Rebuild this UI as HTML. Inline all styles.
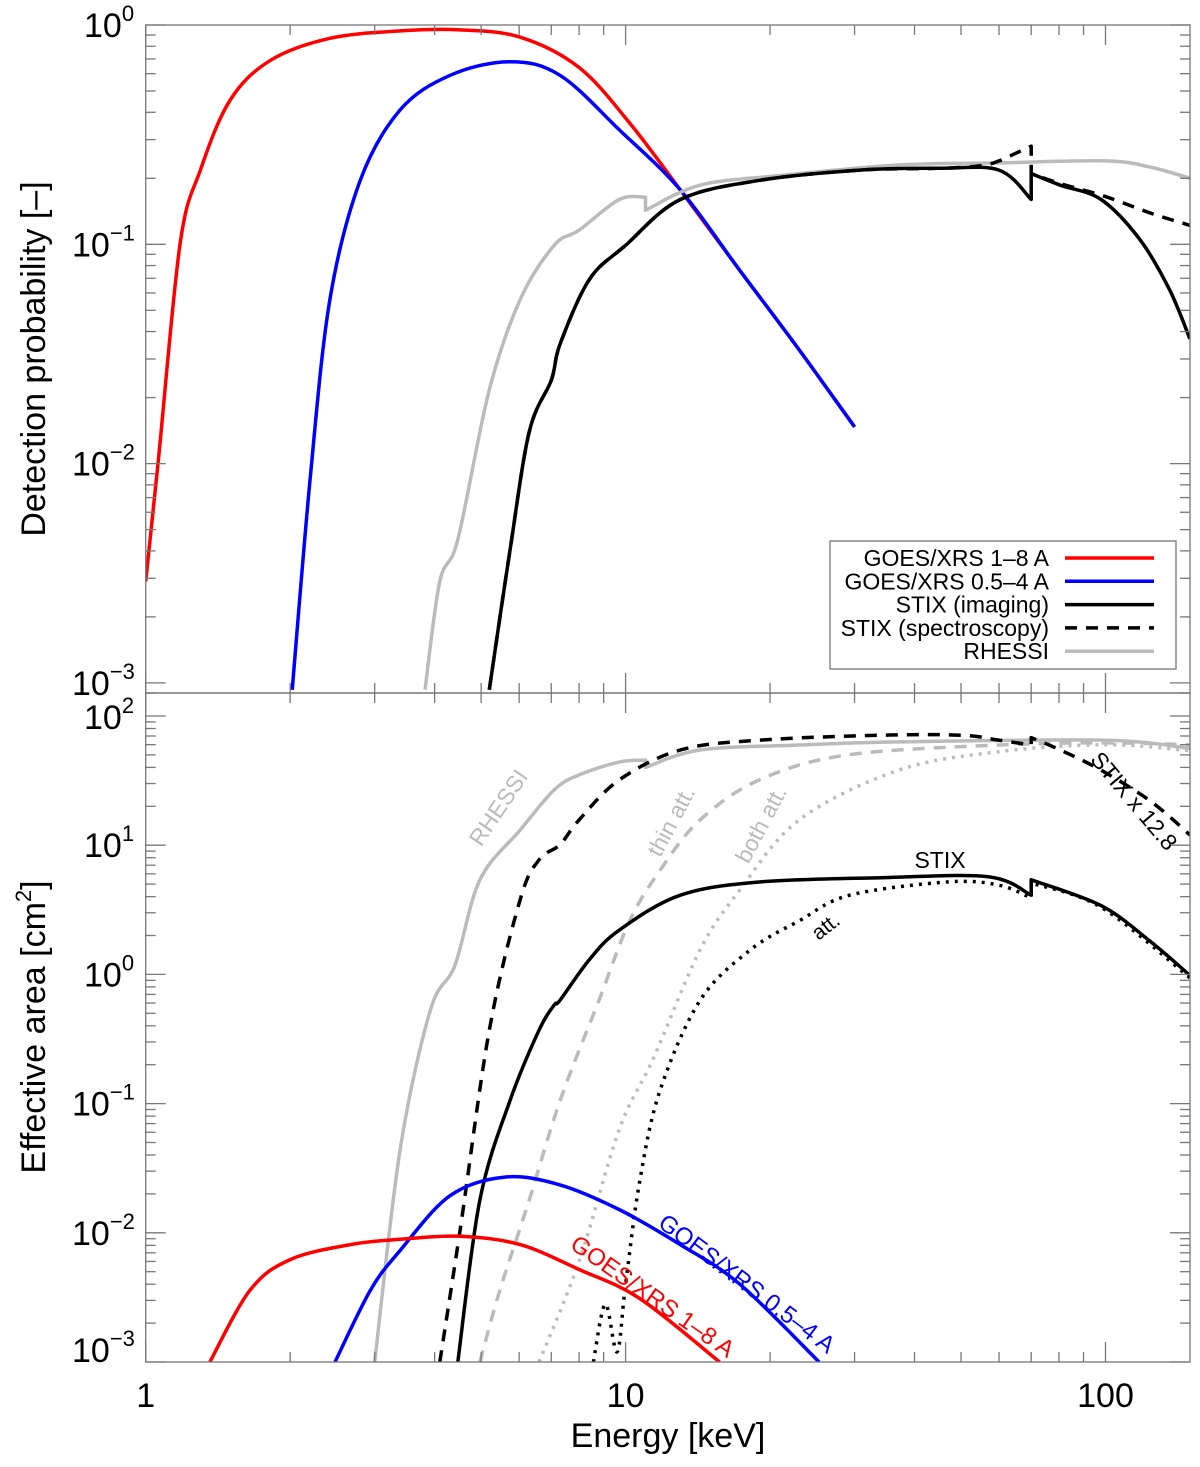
<!DOCTYPE html>
<html><head><meta charset="utf-8"><style>
body{margin:0;background:#fff;font-family:"Liberation Sans",sans-serif}
svg text{font-family:"Liberation Sans",sans-serif}
</style></head><body>
<svg id="chart" width="1200" height="1462" viewBox="0 0 1200 1462"></svg>
<script>
// ---- data: top panel (detection probability) ----
const goesLongE=[1.0,1.061,1.179,1.3,1.5,1.82,2.42,3.39,4.52,6.03,8.0,10.2,13,17.3,23,30];
const goesLongP=[0.0029,0.01,0.1,0.218,0.455,0.69,0.87,0.94,0.95,0.88,0.64,0.357,0.177,0.076,0.033,0.0147];
const goesShortE=[2.02,2.2,2.42,2.8,3.39,4.31,5.74,7.3,9.74,13,17.3,23,30];
const goesShortP=[0.00093,0.0084,0.056,0.196,0.41,0.59,0.68,0.59,0.33,0.177,0.076,0.033,0.0147];
const stixImgE=[5.2,5.74,6.3,7.0,7.3,8.4,10,13,19.1,30.8,45,60,70,70,80.5,97.9,118,136,150];
const stixImgP=[0.00093,0.004,0.014,0.024,0.035,0.069,0.099,0.16,0.196,0.218,0.222,0.218,0.16,0.21,0.186,0.16,0.105,0.062,0.037];
const stixSpecE=[5.2,5.74,6.3,7.0,7.3,8.4,10,13,19.1,30.8,45,55,60,65,70,70,80,100,125,150];
const stixSpecP=[0.00093,0.004,0.014,0.024,0.035,0.069,0.099,0.16,0.196,0.218,0.222,0.228,0.24,0.26,0.28,0.21,0.19,0.165,0.138,0.122];
const rhessiTopE=[3.82,4.1,4.47,5.2,6.03,7.1,8.0,9.7,11.0,11.0,14.3,21,37,60,100,124,150];
const rhessiTopP=[0.00093,0.0029,0.0045,0.0217,0.056,0.099,0.116,0.16,0.164,0.143,0.186,0.206,0.23,0.235,0.24,0.225,0.2];
// ---- data: bottom panel (effective area) ----
const rhessiAE=[3.0,3.39,3.92,4.41,4.97,6.03,7.1,8.0,9.7,11.0,11.0,14.3,23,37,100,150];
const rhessiAV=[0.001,0.044,0.53,1.18,5.4,13.1,26.8,35,44,45.6,40,54.6,59.6,63,65,56];
const stix128E=[4.1,4.52,5.2,6.03,6.6,7.3,8.0,9.7,13,19,34,50,60,70,70,80.5,98,124,150];
const stix128V=[0.001,0.0105,0.37,3.8,7.7,10.1,15.7,32,54.6,65,71,71,65,59.6,68,54.6,38,22,12];
const stixAE=[4.47,4.97,5.74,6.6,7.1,7.3,8.4,9.7,13,19.1,34,57,70,70,98,124,150];
const stixAV=[0.001,0.018,0.105,0.37,0.58,0.63,1.3,2.2,4.1,5.2,5.6,5.7,4.1,5.4,3.4,1.8,0.98];
const thinE=[4.97,5.47,6.3,7.3,8.8,10.2,11.8,14.3,19,29,60,100,150];
const thinV=[0.001,0.0036,0.018,0.105,0.63,2.6,6.4,15.7,32,50,59.6,62,60];
const bothE=[6.6,8.0,9.7,11.4,14.3,17.3,23,37,60,100,150];
const bothV=[0.001,0.006,0.063,0.22,1.55,4.5,15.7,38,53,60,54];
const attE=[8.57,9.07,9.6,10,10.7,11.8,14.3,18.2,23,29.3,47,60,70,70,98,150];
const attV=[0.001,0.0028,0.0012,0.004,0.025,0.127,0.63,1.55,2.6,4.1,5.2,4.9,3.9,5.1,3.3,0.94];
const goesShortAE=[2.48,2.94,3.39,4.31,5.6,7.3,9.74,13,17.3,25.3];
const goesShortAV=[0.001,0.0036,0.0073,0.0194,0.027,0.0235,0.015,0.0081,0.004,0.001];
const goesLongAE=[1.36,1.65,2.0,2.67,3.39,4.52,6.03,8.0,10.7,15.7];
const goesLongAV=[0.001,0.0036,0.0062,0.0081,0.0089,0.0094,0.0081,0.0052,0.0031,0.001];
const xTicks=[1,10,100];

const NS="http://www.w3.org/2000/svg";
const svg=document.getElementById('chart');
const X0=145.7,X1=1190,XMAX=150;
const xs=e=>X0+(X1-X0)*Math.log10(e)/Math.log10(XMAX);
const T0=25,TD=219.3; const yT=v=>T0-Math.log10(v)*TD;
const B0=716,BD=129.2; const yB=v=>B0+(2-Math.log10(v))*BD;
function el(tag,attrs,parent){const e=document.createElementNS(NS,tag);for(const k in attrs)e.setAttribute(k,attrs[k]);(parent||svg).appendChild(e);return e;}
const defs=el('defs',{});
const cp1=el('clipPath',{id:'ctop'},defs);el('rect',{x:X0,y:T0,width:X1-X0,height:693-T0},cp1);
const cp2=el('clipPath',{id:'cbot'},defs);el('rect',{x:X0,y:693,width:X1-X0,height:1362-693},cp2);
function smoothPath(P){
  const segs=[[P[0]]];
  for(let i=1;i<P.length;i++){if(Math.abs(P[i][0]-P[i-1][0])<0.5)segs.push([P[i]]);else segs[segs.length-1].push(P[i]);}
  let d='';
  segs.forEach((s,si)=>{
    d+=(si?'L':'M')+s[0][0].toFixed(1)+','+s[0][1].toFixed(1);
    for(let i=0;i<s.length-1;i++){
      const p0=s[Math.max(i-1,0)],p1=s[i],p2=s[i+1],p3=s[Math.min(i+2,s.length-1)];
      const c1=[p1[0]+(p2[0]-p0[0])/6,p1[1]+(p2[1]-p0[1])/6];
      const c2=[p2[0]-(p3[0]-p1[0])/6,p2[1]-(p3[1]-p1[1])/6];
      d+='C'+c1[0].toFixed(1)+','+c1[1].toFixed(1)+' '+c2[0].toFixed(1)+','+c2[1].toFixed(1)+' '+p2[0].toFixed(1)+','+p2[1].toFixed(1);
    }
  });
  return d;
}
function series(E,V,ys,color,dash,clip,name){
  const P=E.map((e,i)=>[xs(e),ys(V[i])]);
  const p=el('path',{d:smoothPath(P),fill:'none',stroke:color,'stroke-width':3.5,'stroke-linejoin':'round','clip-path':'url(#'+clip+')'});
  if(dash)p.setAttribute('stroke-dasharray',dash);
  
  
}
series(goesLongE,goesLongP,yT,'#ff0000',null,'ctop','goes-1-8-probability-line');
series(goesShortE,goesShortP,yT,'#0000ff',null,'ctop','goes-0.5-4-probability-line');
series(rhessiTopE,rhessiTopP,yT,'#bbbbbb',null,'ctop','rhessi-probability-line');
series(stixSpecE,stixSpecP,yT,'#000','12,9','ctop','stix-spectroscopy-probability-line');
series(stixImgE,stixImgP,yT,'#000',null,'ctop','stix-imaging-probability-line');
series(rhessiAE,rhessiAV,yB,'#bbbbbb',null,'cbot','rhessi-area-line');
series(thinE,thinV,yB,'#bbbbbb','12,9','cbot','rhessi-thin-att-area-line');
series(bothE,bothV,yB,'#bbbbbb','3,6','cbot','rhessi-both-att-area-line');
series(stix128E,stix128V,yB,'#000','12,9','cbot','stix-x12.8-area-line');
series(stixAE,stixAV,yB,'#000',null,'cbot','stix-area-line');
series(attE,attV,yB,'#000','3,6','cbot','stix-att-area-line');
series(goesShortAE,goesShortAV,yB,'#0000ff',null,'cbot','goes-0.5-4-area-line');
series(goesLongAE,goesLongAV,yB,'#ff0000',null,'cbot','goes-1-8-area-line');

const ax=el('g',{stroke:'#777','stroke-width':1.3,fill:'none'});


el('rect',{x:X0,y:T0,width:X1-X0,height:693-T0},ax);
el('rect',{x:X0,y:693,width:X1-X0,height:1362-693},ax);
function tick(x1,y1,x2,y2){el('line',{x1:x1,y1:y1,x2:x2,y2:y2},ax);}
for(let dec=1;dec<=100;dec*=10){for(let m=1;m<10;m++){const e=dec*m;if(e>XMAX)break;const x=xs(e);const L=m===1?20:10;
  tick(x,1362,x,1362-L);tick(x,693,x,693-L);tick(x,693,x,693+L);tick(x,T0,x,T0+L);}}
function yticks(ys,lo,hi,y0,y1){for(let p=lo;p<=hi;p++){for(let m=1;m<10;m++){const v=m*Math.pow(10,p);const y=ys(v);if(y<y0-0.5||y>y1+0.5)continue;const L=m===1?20:10;
  tick(X0,y,X0+L,y);tick(X1,y,X1-L,y);}}}
yticks(yT,-4,0,T0,693);yticks(yB,-3,2,693,1362);
function txt(s,x,y,attrs,name,sup){const t=el('text',Object.assign({x:x,y:y,'font-size':34,fill:'#000'},attrs||{}));t.textContent=s;
  if(sup){const ts=el('tspan',{dy:-16,'font-size':22},t);ts.textContent=sup;}
  return t;}
const topLab=[['0',0],['−1',-1],['−2',-2],['−3',-3]];
topLab.forEach(([s,p])=>{const y=p===0?37:yT(Math.pow(10,p))+12;txt('10',p===0?84:72,y,{},'y-tick-label-top',s);});
const botLab=[['2',2],['1',1],['0',0],['−1',-1],['−2',-2],['−3',-3]];
botLab.forEach(([s,p])=>{let y=yB(Math.pow(10,p))+12;if(p===2)y=729;if(p===-3)y=1362;txt('10',p>=0?84:72,y,{},'y-tick-label-bottom',s);});
xTicks.forEach(v=>txt(String(v),xs(v),1407,{'text-anchor':'middle'},'x-tick-label'));
txt('Energy [keV]',668,1447,{'text-anchor':'middle','font-size':34},'x-axis-title');
txt('Detection probability [–]',0,0,{'text-anchor':'middle','font-size':34,transform:'translate(45,359) rotate(-90)'},'y-axis-title-top');
const yt2=txt('Effective area [cm',0,0,{'text-anchor':'middle','font-size':34,transform:'translate(45,1027) rotate(-90)'},'y-axis-title-bottom');
const s2=el('tspan',{dy:-14,'font-size':22},yt2);s2.textContent='2';const s3=el('tspan',{dy:14},yt2);s3.textContent=']';
txt('RHESSI',505,812,{'text-anchor':'middle','font-size':23,fill:'#bbbbbb',transform:'rotate(-56 505 812)'},'rhessi-annotation');
txt('thin att.',678,825,{'text-anchor':'middle','font-size':23,fill:'#bbbbbb',transform:'rotate(-62 678 825)'},'thin-att-annotation');
txt('both att.',768,828,{'text-anchor':'middle','font-size':23,fill:'#bbbbbb',transform:'rotate(-62 768 828)'},'both-att-annotation');
txt('STIX x 12.8',1128,806,{'text-anchor':'middle','font-size':23,transform:'rotate(50 1128 806)'},'stix-x12.8-annotation');
txt('STIX',940,868,{'text-anchor':'middle','font-size':23},'stix-annotation');
txt('att.',830,932,{'text-anchor':'middle','font-size':21,transform:'rotate(-38 830 932)'},'att-annotation');
txt('GOES/XRS 1–8 A',648,1303,{'text-anchor':'middle','font-size':24,fill:'#ff0000',transform:'rotate(35 648 1303)'},'goes-1-8-annotation');
txt('GOES/XRS 0.5–4 A',742,1290,{'text-anchor':'middle','font-size':24,fill:'#0000ff',transform:'rotate(37 742 1290)'},'goes-0.5-4-annotation');
const lg=el('g',{});
el('rect',{x:830,y:541,width:346,height:128,fill:'#fff',stroke:'#777','stroke-width':1.3},lg);
const legNames=['GOES/XRS 1–8 A','GOES/XRS 0.5–4 A','STIX (imaging)','STIX (spectroscopy)','RHESSI'];
const legCols=['#ff0000','#0000ff','#000','#000','#bbbbbb'];
const legDash=[null,null,null,'12,9',null];
legNames.forEach((n,i)=>{const y=558+i*23.3;
  const t=el('text',{x:1049,y:y+8,'text-anchor':'end','font-size':23,fill:'#000'},lg);t.textContent=n;
  
  const l=el('line',{x1:1065,y1:y,x2:1154,y2:y,stroke:legCols[i],'stroke-width':3.5},lg);if(legDash[i])l.setAttribute('stroke-dasharray',legDash[i]);
  });
</script>
</body></html>
